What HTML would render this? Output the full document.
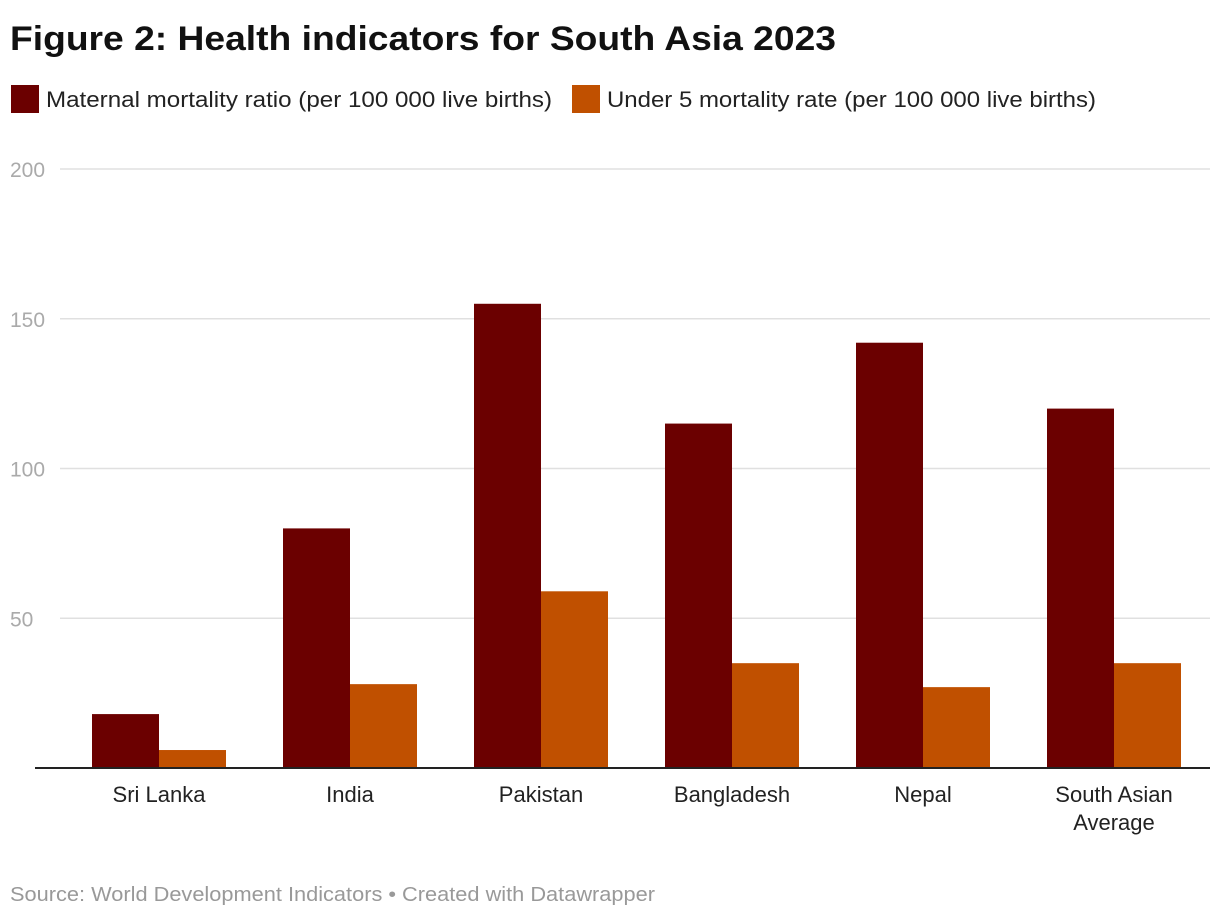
<!DOCTYPE html>
<html><head><meta charset="utf-8"><style>
body{margin:0;background:#fff;font-family:"Liberation Sans",sans-serif;}
</style></head><body>
<svg width="1220" height="918" xmlns="http://www.w3.org/2000/svg">
<text x="10" y="50" font-size="34" font-weight="bold" fill="#111" textLength="826" lengthAdjust="spacingAndGlyphs">Figure 2: Health indicators for South Asia 2023</text>
<g>
<rect x="11" y="85" width="28" height="28" fill="#6b0000"/>
<text x="46" y="107" font-size="22" fill="#222" textLength="506" lengthAdjust="spacingAndGlyphs">Maternal mortality ratio (per 100 000 live births)</text>
<rect x="572" y="85" width="28" height="28" fill="#c05000"/>
<text x="607" y="107" font-size="22" fill="#222" textLength="489" lengthAdjust="spacingAndGlyphs">Under 5 mortality rate (per 100 000 live births)</text>
</g>
<g id="grid"></g>
<g id="bars"></g>
<g id="xlabels"></g>
<text x="10" y="901" font-size="20" fill="#999" textLength="645" lengthAdjust="spacingAndGlyphs">Source: World Development Indicators • Created with Datawrapper</text>
</svg>
<script>
const categories=["Sri Lanka","India","Pakistan","Bangladesh","Nepal","South Asian|Average"];
const maternal=[18,80,155,115,142,120];
const under5=[6,28,59,35,27,35];
const ticks=[0,50,100,150,200];
const NS="http://www.w3.org/2000/svg";
const y0=768,pxPer=599/200;
function y(v){return y0-v*pxPer;}
function cx(i){return 159+191*i;}
const bw=67;
const grid=document.getElementById('grid');
ticks.forEach(t=>{
  if(t>0){
    const l=document.createElementNS(NS,'line');
    l.setAttribute('x1',60);l.setAttribute('x2',1210);l.setAttribute('y1',y(t));l.setAttribute('y2',y(t));
    l.setAttribute('stroke','#e0e0e0');l.setAttribute('stroke-width','1.5');
    
    
    grid.appendChild(l);
    const tx=document.createElementNS(NS,'text');
    tx.setAttribute('x',10);tx.setAttribute('y',y(t)+8);tx.setAttribute('font-size','21');tx.setAttribute('fill','#aaa');
    tx.textContent=t;
    
    
    grid.appendChild(tx);
  }
});
const bars=document.getElementById('bars');
categories.forEach((c,i)=>{
  [[maternal,'#6b0000',-bw,'maternal'],[under5,'#c05000',0,'under5']].forEach(([arr,col,off,nm])=>{
    const r=document.createElementNS(NS,'rect');
    r.setAttribute('x',cx(i)+off);r.setAttribute('width',bw);
    r.setAttribute('y',y(arr[i]));r.setAttribute('height',y0-y(arr[i]));r.setAttribute('fill',col);
    
    
    bars.appendChild(r);
  });
  const lines=c.split('|');
  lines.forEach((s,k)=>{
    const t=document.createElementNS(NS,'text');
    t.setAttribute('x',cx(i));t.setAttribute('y',802+k*28);t.setAttribute('text-anchor','middle');
    t.setAttribute('font-size','22');t.setAttribute('fill','#222');t.textContent=s;
    
    
    document.getElementById('xlabels').appendChild(t);
  });
});
const base=document.createElementNS(NS,'line');
base.setAttribute('x1',35);base.setAttribute('x2',1210);base.setAttribute('y1',y0);base.setAttribute('y2',y0);
base.setAttribute('stroke','#222');base.setAttribute('stroke-width','2');


bars.appendChild(base);
</script>
</body></html>
